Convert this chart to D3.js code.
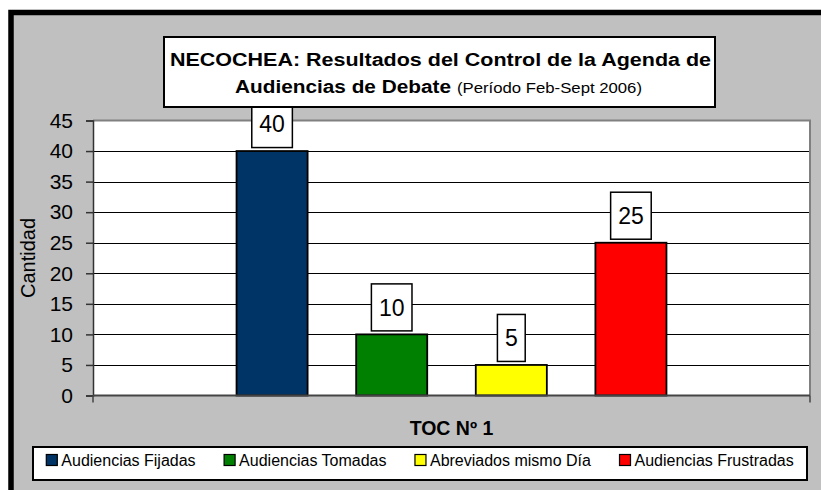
<!DOCTYPE html>
<html>
<head>
<meta charset="utf-8">
<script src="https://cdn.jsdelivr.net/npm/d3@7"></script>
<style>
  body { margin: 0; background: #fff; }
  text { font-family: "Liberation Sans", Arial, sans-serif; }
</style>
</head>
<body>
<div id="chart"></div>
<script>
// *********************************************
// DATA
// *********************************************
var categories = ["TOC Nº 1"];
var series = ["Audiencias Fijadas", "Audiencias Tomadas", "Abreviados mismo Día", "Audiencias Frustradas"];
var values = [40, 10, 5, 25];
var colors = ["#003366", "#008000", "#FFFF00", "#FF0000"];
var yTicks = [0, 5, 10, 15, 20, 25, 30, 35, 40, 45];

var titleLine1 = "NECOCHEA: Resultados del Control de la Agenda de";
var titleLine2 = "Audiencias de Debate";
var titleSub = "(Período Feb-Sept 2006)";
var yTitle = "Cantidad";

// *********************************************
// SETUP
// *********************************************
var width = 821, height = 490;
var plotArea = {left: 93, right: 810, top: 120.5, bottom: 395.5};

var svg = d3.select("#chart").append("svg")
    .attr("width", width)
    .attr("height", height);

// outer frame (cut by the window on the right and bottom)
svg.append("rect")
    .attr("x", 11).attr("y", 12.5)
    .attr("width", 900).attr("height", 600)
    .attr("fill", "#c0c0c0")
    .attr("stroke", "#000")
    .attr("stroke-width", 5.5);

// scales
var y = d3.scaleLinear().domain([0, 45]).range([plotArea.bottom, plotArea.top]);
var x0 = d3.scaleBand().domain(categories).range([plotArea.left, plotArea.right]);
var x1 = d3.scaleBand().domain(series)
    .range([0, x0.bandwidth()])
    .paddingInner(0.406)
    .paddingOuter(1.2);

// plot area
svg.append("rect")
    .attr("x", plotArea.left).attr("y", plotArea.top)
    .attr("width", plotArea.right - plotArea.left)
    .attr("height", plotArea.bottom - plotArea.top)
    .attr("fill", "#fff");

// gridlines
svg.append("g").selectAll("line")
  .data(yTicks.filter(function(d) { return d > 0 && d < 45; }))
  .enter().append("line")
    .attr("x1", plotArea.left).attr("x2", plotArea.right)
    .attr("y1", function(d) { return Math.round(y(d)) + 0.5; })
    .attr("y2", function(d) { return Math.round(y(d)) + 0.5; })
    .attr("stroke", "#000")
    .attr("stroke-width", 1);

// plot border top + right
svg.append("path")
    .attr("d", "M" + plotArea.left + "," + plotArea.top + "H" + plotArea.right + "V" + plotArea.bottom)
    .attr("fill", "none")
    .attr("stroke", "#808080")
    .attr("stroke-width", 2);

// bars
var group = svg.append("g").selectAll("g")
  .data(categories).enter().append("g")
    .attr("transform", function(d) { return "translate(" + x0(d) + ",0)"; });

group.selectAll("rect")
  .data(series.map(function(s, i) { return {name: s, value: values[i], color: colors[i]}; }))
  .enter().append("rect")
    .attr("x", function(d) { return x1(d.name); })
    .attr("y", function(d) { return y(d.value); })
    .attr("width", x1.bandwidth())
    .attr("height", function(d) { return y(0) - y(d.value); })
    .attr("fill", function(d) { return d.color; })
    .attr("stroke", "#000")
    .attr("stroke-width", 1.8);

// data labels in boxes
var labels = group.selectAll("g.lbl")
  .data(series.map(function(s, i) { return {name: s, value: values[i]}; }))
  .enter().append("g").attr("class", "lbl")
    .attr("transform", function(d) {
      return "translate(" + (x1(d.name) + x1.bandwidth() / 2) + "," + (y(d.value) - 27) + ")";
    });

labels.append("text")
    .attr("text-anchor", "middle")
    .attr("dy", "0.36em")
    .attr("font-size", 23)
    .text(function(d) { return d.value; });

labels.each(function() {
  var g = d3.select(this);
  var bb = g.select("text").node().getBBox();
  g.insert("rect", "text")
    .attr("x", -bb.width / 2 - 7.5)
    .attr("y", -23.5)
    .attr("width", bb.width + 15)
    .attr("height", 47)
    .attr("fill", "#fff")
    .attr("stroke", "#000")
    .attr("stroke-width", 1.5);
});

// y axis
var yAxis = svg.append("g")
    .attr("transform", "translate(" + plotArea.left + ",0)")
    .call(d3.axisLeft(y).tickValues(yTicks).tickSize(7).tickPadding(13));
yAxis.select(".domain").attr("stroke", "#333").attr("stroke-width", 1.5);
yAxis.selectAll(".tick line").attr("stroke", "#333").attr("stroke-width", 1.5);
yAxis.selectAll("text")
    .attr("font-size", 21)
    .attr("font-family", "'Liberation Sans', Arial, sans-serif")
    .attr("fill", "#000");

// x axis (single category, ticks at both ends)
var xAxis = svg.append("g")
    .attr("transform", "translate(0," + plotArea.bottom + ")");
xAxis.append("line")
    .attr("x1", plotArea.left).attr("x2", plotArea.right)
    .attr("stroke", "#444").attr("stroke-width", 2);
xAxis.selectAll("line.tk")
  .data(x0.range()).enter().append("line").attr("class", "tk")
    .attr("x1", function(d) { return d; }).attr("x2", function(d) { return d; })
    .attr("y1", 0).attr("y2", 7)
    .attr("stroke", "#444").attr("stroke-width", 1.5);

// axis titles
svg.append("text")
    .attr("x", x0(categories[0]) + x0.bandwidth() / 2)
    .attr("y", 434.5)
    .attr("text-anchor", "middle")
    .attr("font-size", 19.5)
    .attr("font-weight", "bold")
    .text(categories[0]);

svg.append("text")
    .attr("transform", "translate(35," + (plotArea.top + plotArea.bottom) / 2 + ") rotate(-90)")
    .attr("text-anchor", "middle")
    .attr("font-size", 20)
    .text(yTitle);

// title box
svg.append("rect")
    .attr("x", 164).attr("y", 37)
    .attr("width", 551).attr("height", 70)
    .attr("fill", "#fff")
    .attr("stroke", "#000")
    .attr("stroke-width", 2);

svg.append("text")
    .attr("x", 170).attr("y", 65.5)
    .attr("font-size", 17.5)
    .attr("font-weight", "bold")
    .attr("textLength", 541)
    .attr("lengthAdjust", "spacingAndGlyphs")
    .text(titleLine1);

svg.append("text")
    .attr("x", 235).attr("y", 92.5)
    .attr("font-size", 17.5)
    .attr("font-weight", "bold")
    .attr("textLength", 216)
    .attr("lengthAdjust", "spacingAndGlyphs")
    .text(titleLine2);

svg.append("text")
    .attr("x", 457).attr("y", 92.5)
    .attr("font-size", 14)
    .attr("textLength", 185)
    .attr("lengthAdjust", "spacingAndGlyphs")
    .text(titleSub);

// legend
var legendBox = {left: 33, right: 807, top: 447, bottom: 480};
svg.append("rect")
    .attr("x", legendBox.left).attr("y", legendBox.top)
    .attr("width", legendBox.right - legendBox.left)
    .attr("height", legendBox.bottom - legendBox.top)
    .attr("fill", "#fff")
    .attr("stroke", "#000")
    .attr("stroke-width", 2);

var legend = svg.append("g");
var items = legend.selectAll("g")
  .data(series).enter().append("g");

items.append("rect")
    .attr("x", 0).attr("y", -11.5)
    .attr("width", 11).attr("height", 11)
    .attr("fill", function(d, i) { return colors[i]; })
    .attr("stroke", "#000")
    .attr("stroke-width", 1.2);

items.append("text")
    .attr("x", 15).attr("y", 0)
    .attr("font-size", 16)
    .text(function(d) { return d; });

// lay items out in a row, centred in the legend box
var gap = 28.5, widths = [];
items.each(function() { widths.push(this.getBBox().width); });
var total = d3.sum(widths) + gap * (widths.length - 1);
var cx = (legendBox.left + legendBox.right) / 2 - total / 2;
items.attr("transform", function(d, i) {
  var pos = cx + d3.sum(widths.slice(0, i)) + gap * i;
  return "translate(" + pos + ",466)";
});
</script>
</body>
</html>
